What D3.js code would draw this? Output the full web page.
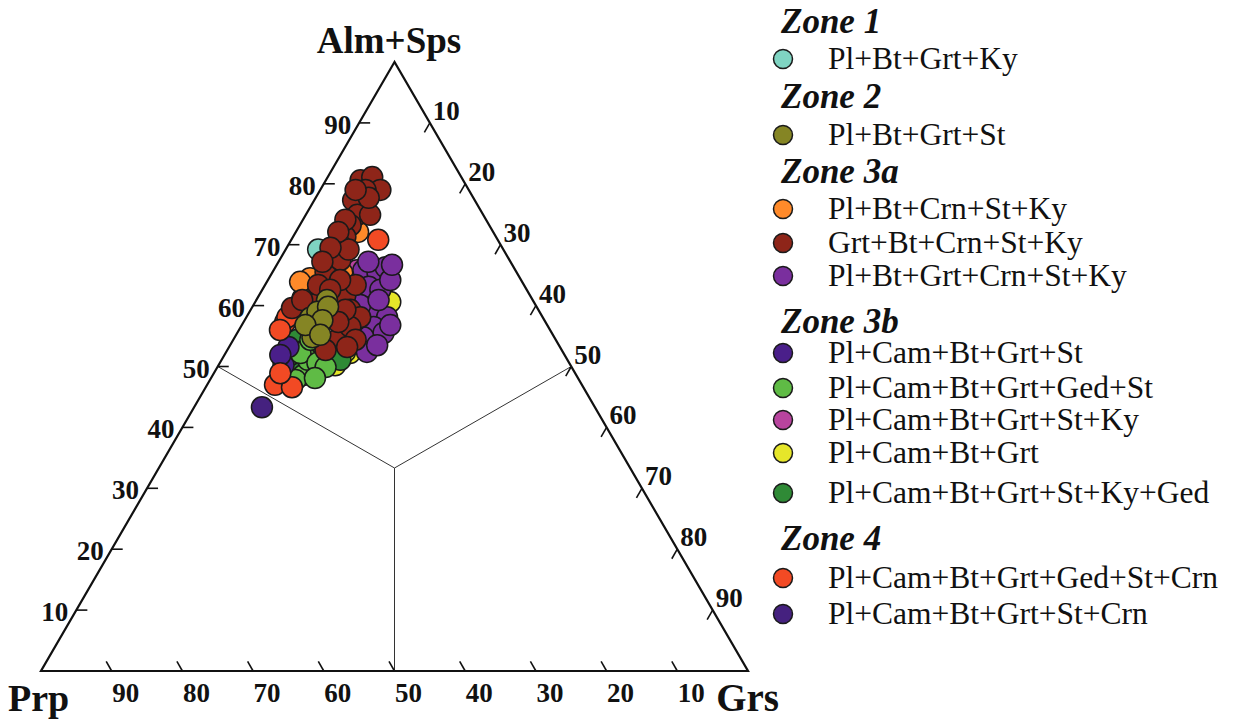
<!DOCTYPE html>
<html>
<head>
<meta charset="utf-8">
<script src="https://cdn.jsdelivr.net/npm/d3@7"></script>
<style>
  html, body { margin: 0; padding: 0; background: #fff; }
  svg { display: block; }
  text { font-family: "Liberation Serif", "Times New Roman", Times, serif; fill: #111; }
</style>
</head>
<body>
<svg id="chart" width="1237" height="722"></svg>
<script>
// Garnet end-member compositions, [Alm+Sps, Prp, Grs] in mol %
const zone1Ky = [[69.2, 26.2, 4.6]];
const zone2St = [
  [58.0, 32.9, 9.1], [56.5, 33.2, 10.3], [60.9, 29.1, 10.0], [59.0, 31.4, 9.6],
  [54.8, 34.2, 11.0], [59.8, 29.5, 10.7], [57.6, 31.4, 11.0], [56.8, 34.2, 9.0],
  [55.2, 32.9, 11.9]
];
const zone3aPlOrange = [
  [72.1, 19.1, 8.8], [65.4, 24.7, 9.9], [63.9, 29.5, 6.6], [63.1, 28.9, 8.0],
  [64.5, 29.7, 5.8], [62.6, 31.3, 6.1], [61.2, 32.4, 6.4], [63.9, 31.4, 4.7]
];
const zone3aGrt = [
  [80.6, 14.5, 4.9], [81.1, 12.6, 6.3], [79.0, 12.5, 8.5], [79.0, 14.6, 6.4],
  [76.5, 16.3, 7.2], [77.3, 17.2, 5.5], [74.9, 17.8, 7.3], [73.2, 19.6, 7.2],
  [71.3, 21.3, 7.4], [70.0, 22.7, 7.3], [68.3, 24.2, 7.5], [66.7, 25.7, 7.6],
  [65.5, 27.0, 7.5], [67.5, 23.9, 8.6], [69.2, 21.9, 8.9], [60.9, 28.2, 10.9],
  [61.7, 26.1, 12.2], [59.3, 26.6, 14.1], [58.1, 25.8, 16.1], [58.8, 29.3, 11.9],
  [63.4, 23.8, 12.8], [60.9, 30.0, 9.1], [56.0, 29.0, 15.0], [54.4, 30.9, 14.7],
  [52.7, 33.4, 13.9], [56.5, 28.0, 15.5], [74.9, 16.0, 9.1], [63.4, 29.1, 7.5],
  [77.7, 14.8, 7.5], [79.0, 16.0, 5.0], [74.1, 19.9, 6.0], [72.1, 21.9, 6.0],
  [69.5, 24.3, 6.2], [67.2, 26.6, 6.2], [64.2, 25.6, 10.2], [62.6, 27.8, 9.6],
  [59.3, 27.3, 13.4], [57.3, 29.3, 13.4], [54.4, 28.3, 17.3], [53.2, 30.1, 16.7],
  [59.6, 34.7, 5.7], [60.9, 32.6, 6.5]
];
const zone3aPurple = [
  [65.8, 21.5, 12.7], [65.4, 19.7, 14.9], [66.3, 18.1, 15.6], [63.1, 22.1, 14.8],
  [62.6, 20.7, 16.7], [59.8, 23.2, 17.0], [58.1, 22.0, 19.9], [56.5, 24.7, 18.8],
  [55.5, 23.8, 20.7], [54.8, 27.0, 18.2], [52.4, 27.7, 19.9], [64.2, 18.5, 17.3],
  [60.1, 24.8, 15.1], [60.9, 21.8, 17.3], [66.7, 17.0, 16.3], [67.2, 20.1, 12.7],
  [57.6, 26.7, 15.7], [53.5, 25.7, 20.8], [56.8, 22.2, 21.0]
];
const zone3bSt = [[50.2, 40.6, 9.2], [53.2, 38.4, 8.4], [51.9, 40.2, 7.9]];
const zone3bGedSt = [
  [48.6, 38.6, 12.8], [51.1, 36.7, 12.2], [52.2, 37.2, 10.6], [50.6, 35.6, 13.8],
  [54.4, 34.7, 10.9], [49.9, 34.8, 15.3], [47.8, 40.1, 12.1], [48.1, 37.2, 14.7]
];
const zone3bStKy = [[65.8, 22.4, 11.8], [62.2, 24.9, 12.9]];
const zone3bGrt = [[60.6, 20.3, 19.1], [50.2, 33.3, 16.5], [52.2, 30.2, 17.6], [52.4, 30.8, 16.8]];
const zone3bKyGed = [
  [50.7, 38.7, 10.6], [51.1, 34.0, 14.9], [54.4, 36.5, 9.1], [52.2, 33.3, 14.5],
  [52.7, 36.3, 11.0], [52.4, 34.6, 13.0], [51.9, 38.8, 9.3], [51.1, 32.1, 16.8]
];
const zone4Ged = [
  [70.8, 16.9, 12.3], [47.0, 43.4, 9.6], [46.6, 41.2, 12.2], [57.3, 36.8, 5.9],
  [58.1, 36.1, 5.8], [48.9, 41.7, 9.4], [56.0, 38.2, 5.8]
];
const zone4Crn = [[43.3, 47.1, 9.6]];

// Legend groups and entries
const zoneNames = ["Zone 1", "Zone 2", "Zone 3a", "Zone 3b", "Zone 4"];
const assemblages = [
  { zone: "Zone 1",  label: "Pl+Bt+Grt+Ky",              color: "#7fd4c2", data: zone1Ky },
  { zone: "Zone 2",  label: "Pl+Bt+Grt+St",              color: "#858524", data: zone2St },
  { zone: "Zone 3a", label: "Pl+Bt+Crn+St+Ky",           color: "#ff8a2a", data: zone3aPlOrange },
  { zone: "Zone 3a", label: "Grt+Bt+Crn+St+Ky",          color: "#8e2519", data: zone3aGrt },
  { zone: "Zone 3a", label: "Pl+Bt+Grt+Crn+St+Ky",       color: "#7a2f9e", data: zone3aPurple },
  { zone: "Zone 3b", label: "Pl+Cam+Bt+Grt+St",          color: "#4a1f8a", data: zone3bSt },
  { zone: "Zone 3b", label: "Pl+Cam+Bt+Grt+Ged+St",      color: "#5fbb45", data: zone3bGedSt },
  { zone: "Zone 3b", label: "Pl+Cam+Bt+Grt+St+Ky",       color: "#b8449e", data: zone3bStKy },
  { zone: "Zone 3b", label: "Pl+Cam+Bt+Grt",             color: "#e6e62a", data: zone3bGrt },
  { zone: "Zone 3b", label: "Pl+Cam+Bt+Grt+St+Ky+Ged",   color: "#2f8a36", data: zone3bKyGed },
  { zone: "Zone 4",  label: "Pl+Cam+Bt+Grt+Ged+St+Crn",  color: "#f24a24", data: zone4Ged },
  { zone: "Zone 4",  label: "Pl+Cam+Bt+Grt+St+Crn",      color: "#45217f", data: zone4Crn }
];
// Plotting order of the assemblages (later ones on top)
const drawOrder = [8, 9, 6, 5, 7, 10, 11, 0, 2, 4, 3, 1];

const tickValues = [10, 20, 30, 40, 50, 60, 70, 80, 90];

const svg = d3.select("#chart");

// Ternary frame: Alm+Sps at apex, Prp bottom-left, Grs bottom-right
const base = d3.scaleLinear().domain([0, 100]).range([41, 748]);
const height = d3.scaleLinear().domain([0, 100]).range([671, 62]);
function project(alm, prp, grs) {
  const s = alm + prp + grs;
  const a = alm / s * 100, g = grs / s * 100;
  return [base(g + a / 2), height(a)];
}

const frame = svg.append("g");
const A = project(100, 0, 0), P = project(0, 100, 0), G = project(0, 0, 100);
frame.append("path")
  .attr("d", d3.line()([A, P, G, A]) + "Z")
  .attr("fill", "none").attr("stroke", "#111").attr("stroke-width", 2.2)
  .attr("stroke-linejoin", "miter");

// Lines from the barycentre to the mid-points of the sides
const centre = project(1, 1, 1);
[[50, 50, 0], [50, 0, 50], [0, 50, 50]].forEach(m => {
  frame.append("line")
    .attr("x1", centre[0]).attr("y1", centre[1])
    .attr("x2", project(...m)[0]).attr("y2", project(...m)[1])
    .attr("stroke", "#333").attr("stroke-width", 1);
});

const tickLen = 11;
const tickStyle = sel => sel.attr("stroke", "#111").attr("stroke-width", 1.6);
const labelStyle = sel => sel.attr("font-size", 27).attr("font-weight", "bold");

// Alm+Sps axis (left side)
tickValues.forEach(v => {
  const [x, y] = project(v, 100 - v, 0);
  frame.append("line").attr("x1", x).attr("y1", y).attr("x2", x + tickLen).attr("y2", y).call(tickStyle);
  frame.append("text").attr("x", x - 8).attr("y", y + 11).attr("text-anchor", "end").text(v).call(labelStyle);
});
// Grs axis (right side)
tickValues.forEach(v => {
  const [x, y] = project(100 - v, 0, v);
  frame.append("line").attr("x1", x).attr("y1", y)
    .attr("x2", x - tickLen * 0.5).attr("y2", y + tickLen * 0.866).call(tickStyle);
  frame.append("text").attr("x", x + 3).attr("y", y - 3).attr("text-anchor", "start").text(v).call(labelStyle);
});
// Prp axis (bottom side)
tickValues.forEach(v => {
  const [x, y] = project(0, v, 100 - v);
  frame.append("line").attr("x1", x).attr("y1", y)
    .attr("x2", x - tickLen * 0.5).attr("y2", y - tickLen * 0.866).call(tickStyle);
  frame.append("text").attr("x", x + 14).attr("y", y + 31).attr("text-anchor", "middle").text(v).call(labelStyle);
});

// Apex labels
frame.append("text").attr("x", 389).attr("y", 53).attr("text-anchor", "middle")
  .attr("font-size", 37).attr("font-weight", "bold").text("Alm+Sps");
frame.append("text").attr("x", 8).attr("y", 711).attr("text-anchor", "start")
  .attr("font-size", 38).attr("font-weight", "bold").text("Prp");
frame.append("text").attr("x", 779).attr("y", 711).attr("text-anchor", "end")
  .attr("font-size", 39).attr("font-weight", "bold").text("Grs");

// Data points
const pts = svg.append("g");
drawOrder.forEach(i => {
  const s = assemblages[i];
  pts.selectAll(null).data(s.data).enter().append("circle")
    .attr("cx", d => project(...d)[0])
    .attr("cy", d => project(...d)[1])
    .attr("r", 10.5)
    .attr("fill", s.color)
    .attr("stroke", "#1a1a1a").attr("stroke-width", 1.5);
});

// Legend
const legend = svg.append("g");
const zoneBaselines = [33, 108, 183, 333, 550];
const itemCentres = [59, 135, 209, 243, 276, 353, 388, 420, 453, 493, 578, 614];
zoneNames.forEach((z, i) => {
  legend.append("text").attr("x", 781).attr("y", zoneBaselines[i])
    .attr("font-size", 35).attr("font-weight", "bold").attr("font-style", "italic").text(z);
});
assemblages.forEach((s, i) => {
  const cy = itemCentres[i];
  legend.append("circle").attr("cx", 783).attr("cy", cy).attr("r", 9.5)
    .attr("fill", s.color).attr("stroke", "#1a1a1a").attr("stroke-width", 1.5);
  legend.append("text").attr("x", 828).attr("y", cy + 10).attr("font-size", 31.5).text(s.label);
});
</script>
</body>
</html>
